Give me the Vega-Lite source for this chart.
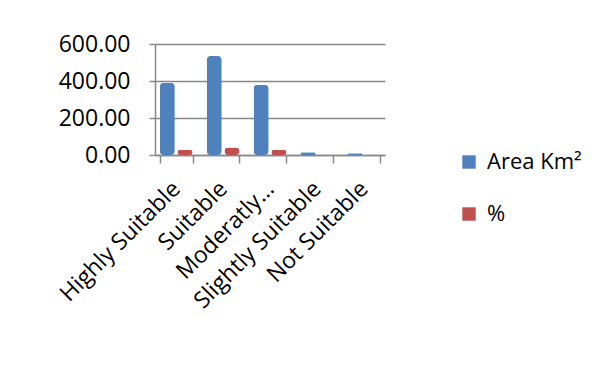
{
  "$schema": "https://vega.github.io/schema/vega-lite/v6.json",
  "width": 230,
  "height": 111,
  "autosize": "none",
  "padding": {"left": 155, "top": 44, "right": 224, "bottom": 210},
  "background": "white",
  "data": {
    "values": [
      {"category": "Highly Suitable", "series": "Area Km²", "value": 390},
      {"category": "Highly Suitable", "series": "%", "value": 29},
      {"category": "Suitable", "series": "Area Km²", "value": 535},
      {"category": "Suitable", "series": "%", "value": 40},
      {"category": "Moderatly Suitable", "series": "Area Km²", "value": 380},
      {"category": "Moderatly Suitable", "series": "%", "value": 28},
      {"category": "Slightly Suitable", "series": "Area Km²", "value": 15},
      {"category": "Slightly Suitable", "series": "%", "value": 2},
      {"category": "Not Suitable", "series": "Area Km²", "value": 10},
      {"category": "Not Suitable", "series": "%", "value": 1}
    ]
  },
  "mark": {"type": "bar", "cornerRadius": 4},
  "encoding": {
    "x": {
      "field": "category",
      "type": "nominal",
      "sort": null,
      "scale": {"paddingInner": 0.3, "paddingOuter": 0.1},
      "axis": {
        "title": null,
        "labelAngle": -45,
        "labelAlign": "right",
        "labelBaseline": "middle",
        "labelFont": "Open Sans",
        "labelFontSize": 23,
        "labelColor": "#000",
        "labelPadding": 22,
        "labelLimit": 300,
        "labelExpr": "datum.value == 'Moderatly Suitable' ? 'Moderatly…' : datum.value",
        "tickBand": "extent",
        "tickColor": "#888",
        "tickSize": 8,
        "tickWidth": 1.5,
        "domainColor": "#888",
        "domainWidth": 1.5
      }
    },
    "xOffset": {"field": "series", "type": "nominal", "sort": ["Area Km²", "%"], "scale": {"paddingInner": 0.15}},
    "y": {
      "field": "value",
      "type": "quantitative",
      "scale": {"domain": [0, 600]},
      "axis": {
        "title": null,
        "values": [0, 200, 400, 600],
        "format": ".2f",
        "labelFont": "Open Sans",
        "labelFontSize": 23,
        "labelColor": "#000",
        "labelPadding": 19,
        "tickColor": "#888",
        "tickSize": 6,
        "tickWidth": 1.5,
        "domainColor": "#888",
        "domainWidth": 1.5,
        "grid": true,
        "gridColor": "#888",
        "gridWidth": 1.5
      }
    },
    "color": {
      "field": "series",
      "type": "nominal",
      "sort": ["Area Km²", "%"],
      "scale": {"domain": ["Area Km²", "%"], "range": ["#4F81BD", "#C0504D"]},
      "legend": {
        "title": null,
        "orient": "none",
        "legendX": 303,
        "legendY": 107,
        "symbolType": "square",
        "symbolSize": 180,
        "symbolStrokeWidth": 0,
        "labelFont": "Open Sans",
        "labelFontSize": 22,
        "labelColor": "#000",
        "rowPadding": 30,
        "labelOffset": 7
      }
    }
  },
  "config": {"view": {"stroke": null}}
}
